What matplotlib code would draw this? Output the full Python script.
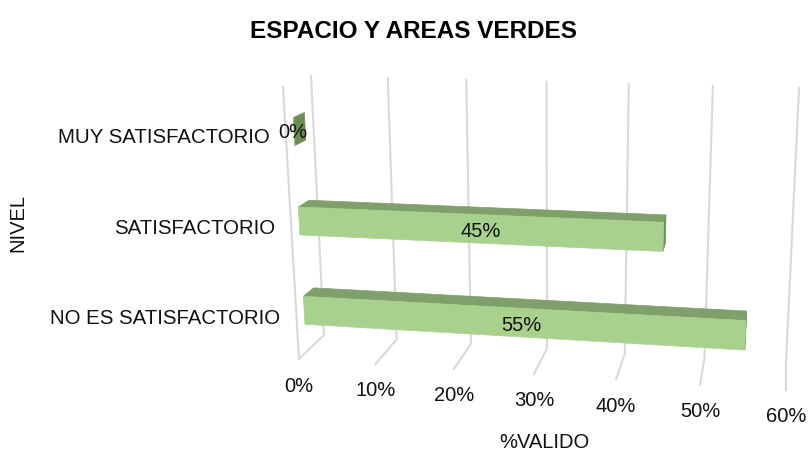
import numpy as np
import matplotlib
matplotlib.use('Agg')
import matplotlib.pyplot as plt
from matplotlib.patches import Polygon

plt.rcParams['font.family'] = ['Liberation Sans', 'DejaVu Sans']

categories = ['NO ES SATISFACTORIO', 'SATISFACTORIO', 'MUY SATISFACTORIO']
values = [55, 45, 0]
value_labels = ['55%', '45%', '0%']
ticks = [0, 10, 20, 30, 40, 50, 60]
tick_labels = ['0%', '10%', '20%', '30%', '40%', '50%', '60%']

VMAX = 60.0
PERSP = 0.001115
# box corners of the 3d chart in pixels: (value end, depth, height)
BACK_BOT = np.array([[324, 335], [786, 363]], float)
BACK_TOP = np.array([[311, 76], [799, 88]], float)
FRONT_BOT = np.array([[299, 359], [786, 390]], float)
FRONT_TOP = np.array([[283, 87], [802, 100]], float)


def project(v, d, h):
    # v in axis units, d 0 (back) to 1 (front), h 0 (floor) to 1 (top)
    t = (v / VMAX) * (1 - VMAX * PERSP) / (1 - v * PERSP)
    bb = BACK_BOT[0] + t * (BACK_BOT[1] - BACK_BOT[0])
    bt = BACK_TOP[0] + t * (BACK_TOP[1] - BACK_TOP[0])
    fb = FRONT_BOT[0] + t * (FRONT_BOT[1] - FRONT_BOT[0])
    ft = FRONT_TOP[0] + t * (FRONT_TOP[1] - FRONT_TOP[0])
    bot = bb + d * (fb - bb)
    top = bt + d * (ft - bt)
    return bot + h * (top - bot)


fig = plt.figure(figsize=(8.1, 4.53), dpi=100)
ax = fig.add_axes([0, 0, 1, 1])
ax.set_xlim(0, 810)
ax.set_ylim(453, 0)
ax.axis('off')

grid = '#d9d9d9'
for v in ticks:
    a, b, c = project(v, 0, 1), project(v, 0, 0), project(v, 1, 0)
    ax.plot([a[0], b[0], c[0]], [a[1], b[1], c[1]], color=grid, lw=1.5, zorder=1)
a, b = project(0, 1, 1), project(0, 1, 0)
ax.plot([a[0], b[0]], [a[1], b[1]], color=grid, lw=1.5, zorder=1)

front_c = '#a9d18e'
top_c = '#7f9f6b'
side_c = '#6c8c58'
D0, D1 = 0.3, 0.7
half = 0.052
fs = 14.5

for i, (cat, val, lab) in enumerate(zip(categories, values, value_labels)):
    hc = (i + 0.5) / 3 - 0.012
    h0, h1 = hc - half, hc + half
    faces = [
        ([project(val, D0, h1), project(val, D1, h1), project(val, D1, h0), project(val, D0, h0)], side_c),
        ([project(0, D0, h1), project(val, D0, h1), project(val, D1, h1), project(0, D1, h1)], top_c),
        ([project(0, D1, h1), project(val, D1, h1), project(val, D1, h0), project(0, D1, h0)], front_c),
    ]
    for pts, col in faces:
        ax.add_patch(Polygon(pts, closed=True, facecolor=col, edgecolor=col, lw=0.5, zorder=2))

    x, y = project(0, 1, hc)
    ax.text(x - 16.5, y + 2, cat, ha='right', va='center', fontsize=14.7, color='#111111', zorder=4)
    if val > 0:
        x, y = project(val / 2, D1, hc)
        ax.text(x + 4, y + 3, lab, ha='center', va='center', fontsize=fs, color='#111111', zorder=4)
    else:
        x, y = project(val, D1, hc)
        ax.text(x - 1, y + 1, lab, ha='center', va='center', fontsize=fs, color='#111111', zorder=4)

for v, lab in zip(ticks, tick_labels):
    x, y = project(v, 1, 0)
    ax.text(x, y + 27, lab, ha='center', va='center', fontsize=fs, color='#111111')

ax.text(414, 32, 'ESPACIO Y AREAS VERDES', ha='center', va='center', fontsize=17.5,
        fontweight='bold', color='black')
ax.text(544, 443, '%VALIDO', ha='center', va='center', fontsize=fs, color='#111111')
ax.text(18, 223, 'NIVEL', ha='center', va='center', rotation=90, fontsize=fs, color='#111111')

fig.savefig('out.png', dpi=100)
